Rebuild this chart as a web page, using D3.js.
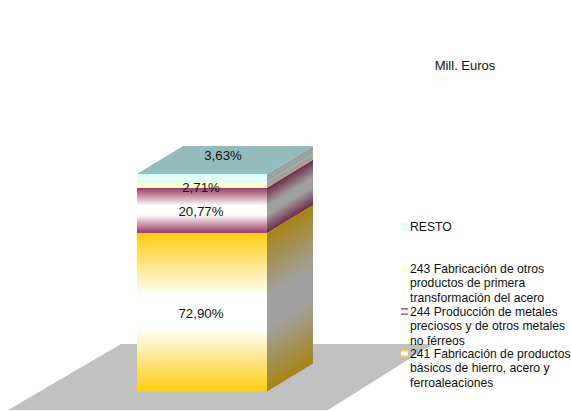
<!DOCTYPE html>
<html>
<head>
<meta charset="utf-8">
<script src="https://cdn.jsdelivr.net/npm/d3@7"></script>
<style>
  html, body { margin: 0; padding: 0; background: #fff; }
  svg { display: block; }
  text { font-family: "Liberation Sans", Arial, sans-serif; fill: #111; }
</style>
</head>
<body>
<div id="chart"></div>
<script>
const categories = ["241", "244", "243", "RESTO"]
const shares = [72.90, 20.77, 2.71, 3.63]
const shareLabels = ["72,90%", "20,77%", "2,71%", "3,63%"]
const edgeColors = ["#ffcc11", "#963a66", "#ffffc4", "#ccffff"]
const midColors = ["#ffffff", "#ffffff", "#ffffdc", "#e4ffff"]
const sideColors = ["#a88416", "#6e2a4b", "#a8a57f", "#86a8a8"]
const legendLines = [
  ["241 Fabricación de productos", "básicos de hierro, acero y", "ferroaleaciones"],
  ["244 Producción de metales", "preciosos y de otros metales", "no férreos"],
  ["243 Fabricación de otros", "productos de primera", "transformación del acero"],
  ["RESTO"]
]
const legendTops = [350, 308, 265, 223]
const labelPos = [[201, 313], [201, 211], [201, 187], [223, 155]]

const width = 571, height = 411
const depth = { x: 46, y: -28 }
const bar = { left: 137, right: 267, bottom: 391.5, top: 174 }

const svg = d3.select("#chart").append("svg")
  .attr("width", width)
  .attr("height", height)
const defs = svg.append("defs")

const y = d3.scaleLinear().domain([0, 100.01]).range([bar.bottom, bar.top])

const poly = pts => pts.map(p => p.join(",")).join(" ")

function addStops(grad, edge, mid) {
  grad.append("stop").attr("offset", "0%").attr("stop-color", edge)
  grad.append("stop").attr("offset", "40%").attr("stop-color", mid)
  grad.append("stop").attr("offset", "60%").attr("stop-color", mid)
  grad.append("stop").attr("offset", "100%").attr("stop-color", edge)
}

// stack segments
let running = 0
const stack = shares.map((v, i) => {
  const seg = { i, y0: y(running), y1: y(running + v) }
  running += v
  return seg
})

// floor
svg.append("polygon")
  .attr("points", poly([[121, 344], [433, 344], [328, 410], [8, 410]]))
  .attr("fill", "#c0c0c0")

stack.forEach(s => {
  const grad = defs.append("linearGradient")
    .attr("id", `front${s.i}`)
    .attr("x1", 0).attr("y1", 0).attr("x2", 0).attr("y2", 1)
  addStops(grad, edgeColors[s.i], midColors[s.i])

  // side gradient is sheared so its bands follow the slanted edges
  const skew = Math.atan2(depth.y, depth.x) * 180 / Math.PI
  const side = defs.append("linearGradient")
    .attr("id", `side${s.i}`)
    .attr("gradientUnits", "userSpaceOnUse")
    .attr("x1", bar.right).attr("x2", bar.right)
    .attr("y1", s.y1).attr("y2", s.y0)
    .attr("gradientTransform", `translate(${bar.right},0) skewY(${skew}) translate(${-bar.right},0)`)
  addStops(side, sideColors[s.i], "#a0a0a0")

  svg.append("rect")
    .attr("x", bar.left).attr("y", s.y1)
    .attr("width", bar.right - bar.left)
    .attr("height", s.y0 - s.y1)
    .attr("fill", `url(#front${s.i})`)

  svg.append("polygon")
    .attr("points", poly([
      [bar.right, s.y0], [bar.right + depth.x, s.y0 + depth.y],
      [bar.right + depth.x, s.y1 + depth.y], [bar.right, s.y1]
    ]))
    .attr("fill", `url(#side${s.i})`)
})

// top face
svg.append("polygon")
  .attr("points", poly([
    [bar.left, bar.top], [bar.right, bar.top],
    [bar.right + depth.x, bar.top + depth.y], [bar.left + depth.x, bar.top + depth.y]
  ]))
  .attr("fill", "#95bcbc")

shareLabels.forEach((t, i) => {
  svg.append("text")
    .attr("x", labelPos[i][0]).attr("y", labelPos[i][1])
    .attr("dy", "0.35em")
    .attr("text-anchor", "middle")
    .attr("font-size", "13.3px")
    .text(t)
})

svg.append("text")
  .attr("x", 465).attr("y", 65)
  .attr("dy", "0.35em")
  .attr("text-anchor", "middle")
  .attr("font-size", "13px")
  .text("Mill. Euros")

// legend
categories.forEach((c, i) => {
  const top = legendTops[i]
  const sw = defs.append("linearGradient")
    .attr("id", `swatch${i}`)
    .attr("x1", 0).attr("y1", 0).attr("x2", 0).attr("y2", 1)
  addStops(sw, edgeColors[i], midColors[i])
  svg.append("rect")
    .attr("x", 401).attr("y", top)
    .attr("width", 7).attr("height", 7)
    .attr("fill", `url(#swatch${i})`)
  legendLines[i].forEach((line, j) => {
    svg.append("text")
      .attr("x", 410).attr("y", top + 4 + j * 14.2)
      .attr("dy", "0.35em")
      .attr("font-size", "12.2px")
      .text(line)
  })
})
</script>
</body>
</html>
